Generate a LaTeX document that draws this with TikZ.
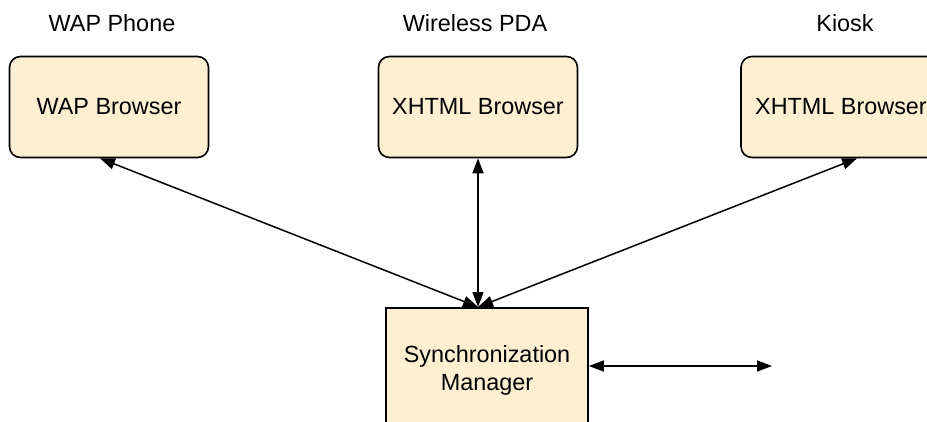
\documentclass[tikz,border=0pt]{standalone}
\usepackage{fontspec}
\setmainfont{Liberation Sans}
\usetikzlibrary{arrows.meta,calc}
\definecolor{cream}{RGB}{253,240,210}
\tikzset{
  browser/.style={draw=black, line width=1.6pt, fill=cream, rounded corners=11pt, minimum width=199pt, minimum height=101pt, inner sep=0pt},
  mgr/.style={draw=black, line width=1.6pt, fill=cream, inner sep=0pt},
  lbl/.style={inner sep=0pt},
  conn/.style={line width=1.5pt, {Triangle[length=15pt,width=11pt]}-{Triangle[length=15pt,width=11pt]}}
}
\begin{document}
\begin{tikzpicture}[x=1pt,y=-1pt, font=\fontsize{23.4}{28}\selectfont]
\useasboundingbox (0,0) rectangle (927,421);
\node[browser] (wap) at (109,107) {WAP Browser};
\node[browser] (pda) at (478,107) {XHTML Browser};
\node[browser, minimum width=200pt] (kiosk) at (841,107) {XHTML Browser};
\node[lbl] (wapl) at (112,23) {WAP Phone};
\node[lbl] (pdal) at (475,23) {Wireless PDA};
\node[lbl] (kioskl) at (845,23) {Kiosk};
\node[mgr, minimum width=202pt, minimum height=133pt, anchor=north] (sm) at (487,307) {};
\node[lbl, align=center] (smt) at (487,370) {Synchronization\\Manager};
\coordinate (smtop) at (pda.south |- sm.north);
\coordinate (smeast) at (sm.east |- 0,366);
\coordinate (out) at (772,366);
\coordinate (wapb) at ($(wap.south west)!0.455!(wap.south east)$);
\coordinate (kb) at ($(kiosk.south west)!0.58!(kiosk.south east)$);
\draw[conn] (wapb) -- (smtop);
\draw[conn] (pda.south) -- (smtop);
\draw[conn] (kb) -- (smtop);
\draw[conn] (smeast) -- (out);
\end{tikzpicture}
\end{document}
